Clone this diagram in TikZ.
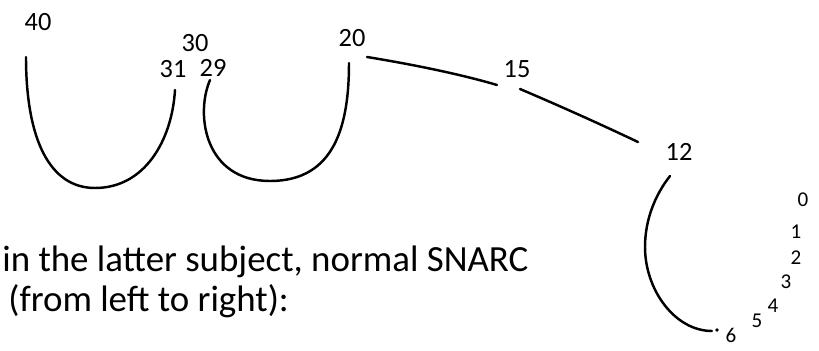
\documentclass[tikz,border=0pt]{standalone}
\usepackage{fontspec}
\setmainfont{Carlito}
\usetikzlibrary{calc,positioning}
\tikzset{
  num/.style={inner sep=0pt, font=\fontsize{15}{15}\selectfont},
  smallnum/.style={inner sep=0pt, font=\fontsize{12}{12}\selectfont},
  pen/.style={line width=1.4pt},
  txt/.style={anchor=base west, inner sep=0pt, font=\fontsize{21}{25}\selectfont},
  every picture/.style={line cap=round, line join=round}
}
\begin{document}
\begin{tikzpicture}[x=0.02cm,y=-0.02cm]
    \useasboundingbox (0,0) rectangle (819,351);

    % labels along the line
    \node[num] (n40) at (38,22) {40};
    \node[num] (n30) at (195,43) {30};
    \node[num] (n31) at (173,69) {31};
    \node[num] (n29) at (213,68) {29};
    \node[num] (n20) at (352,38) {20};
    \node[num] (n15) at (517,69) {15};
    \node[num] (n12) at (679,152) {12};

    \foreach \name/\x/\y/\t in {
      d0/803/200/0, d1/796/232/1, d2/796/258/2, d3/786/282/3,
      d4/773/306/4, d5/757/321/5, d6/731/335/6}
    {
      \node[smallnum] (\name) at (\x,\y) {\t};
    }

    % stroke ends
    \coordinate (la) at (26,57);
    \coordinate (lb) at (95,188);
    \coordinate (lc) at (175,90);
    \coordinate (ra) at (210,80);
    \coordinate (rb) at (270,181);
    \coordinate (rc) at (349,63);
    \coordinate (sa) at (367,57);
    \coordinate (sb) at (497,85);
    \coordinate (ta) at (520,89);
    \coordinate (tb) at (638,142);
    \coordinate (ca) at (670,176);
    \coordinate (cb) at (645,247);
    \coordinate (cc) at (712,331);

    \draw[pen] (la) .. controls (26,140) and (50,188) .. (lb)
                    .. controls (145,188) and (172,140) .. (lc);
    \draw[pen] (ra) .. controls (195,115) and (205,181) .. (rb)
                    .. controls (335,181) and (349,125) .. (rc);
    \draw[pen] (sa) .. controls (410,64) and (460,74) .. (sb);
    \draw[pen] (ta) .. controls (560,106) and (600,124) .. (tb);
    \draw[pen] (ca) .. controls (655,195) and (645,220) .. (cb)
                    .. controls (645,290) and (675,331) .. (cc);
    \fill (717,330) circle (1pt);

    \node[txt] (line1) at (2,272) {in the latter subject, normal SNARC};
    \node[txt] (line2) at (8,312) {(from left to right):};
  \end{tikzpicture}
\end{document}
